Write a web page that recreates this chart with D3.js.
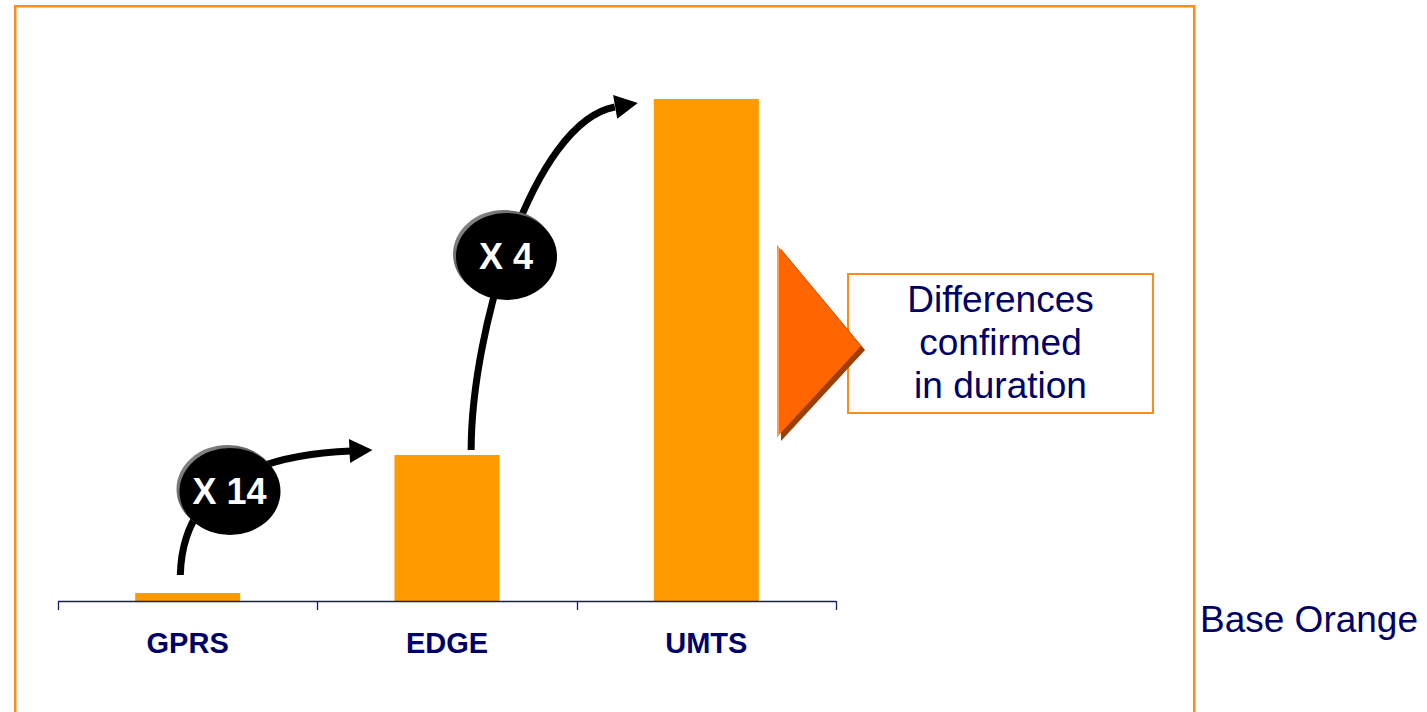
<!DOCTYPE html>
<html>
<head>
<meta charset="utf-8">
<script src="https://cdn.jsdelivr.net/npm/d3@7/dist/d3.min.js"></script>
<style>
  html, body { margin: 0; padding: 0; background: #fff; }
  svg { display: block; }
</style>
</head>
<body>
<svg id="chart" width="1427" height="712"></svg>
<script>
// ---- data ----
const categories = ["GPRS", "EDGE", "UMTS"];
const values = [8, 146, 502];           // relative duration
const multipliers = ["X 14", "X 4"];     // growth labels between consecutive bars
const calloutLines = ["Differences", "confirmed", "in duration"];
const baseLabel = "Base Orange";

// ---- setup ----
const svg = d3.select("#chart");
const NAVY = "#000066";
const BAR = "#ff9900";
const FRAME = "#ff8c1a";
const FONT = "'Liberation Sans', Arial, sans-serif";

const x = d3.scaleBand().domain(categories).range([58, 836])
  .paddingInner(0.595).paddingOuter(0.2975);
const y = d3.scaleLinear().domain([0, d3.max(values)]).range([601, 99]);

// outer frame (bottom edge runs off the picture)
svg.append("rect")
  .attr("x", 15.25).attr("y", 6.25)
  .attr("width", 1179).attr("height", 740)
  .attr("fill", "none").attr("stroke", FRAME).attr("stroke-width", 2.5);

// bars
svg.selectAll("rect.bar").data(categories).join("rect")
  .attr("class", "bar")
  .attr("x", d => x(d))
  .attr("width", x.bandwidth())
  .attr("y", (d, i) => y(values[i]))
  .attr("height", (d, i) => y(0) - y(values[i]))
  .attr("fill", BAR);

// axis: baseline + ticks at band boundaries
const [r0, r1] = x.range();
const bounds = d3.range(categories.length + 1).map(i => r0 + i * x.step());
const axisG = svg.append("g");
axisG.append("line")
  .attr("x1", r0).attr("x2", r1).attr("y1", y(0) + 0.5).attr("y2", y(0) + 0.5)
  .attr("stroke", "#1a1a6e").attr("stroke-width", 1.3);
axisG.selectAll("line.tick").data(bounds).join("line")
  .attr("class", "tick")
  .attr("x1", d => Math.round(d) + 0.5).attr("x2", d => Math.round(d) + 0.5)
  .attr("y1", y(0)).attr("y2", y(0) + 9)
  .attr("stroke", "#1a1a6e").attr("stroke-width", 1.3);

// category labels
svg.selectAll("text.cat").data(categories).join("text")
  .attr("class", "cat")
  .attr("x", d => x(d) + x.bandwidth() / 2)
  .attr("y", 653)
  .attr("text-anchor", "middle")
  .attr("font-family", FONT).attr("font-weight", "bold")
  .attr("font-size", 29).attr("fill", NAVY)
  .text(d => d);

// ---- growth arrows ----
function arrowHead(tip, dir, len, half) {
  const n = Math.hypot(dir[0], dir[1]);
  const ux = dir[0] / n, uy = dir[1] / n;
  const bx = tip[0] - ux * len, by = tip[1] - uy * len;
  return [[tip[0], tip[1]], [bx - uy * half, by + ux * half], [bx + uy * half, by - ux * half]];
}

const bw = x.bandwidth();
const arrows = [
  { // GPRS -> EDGE
    p0: [x("GPRS") + bw * 0.43, y(values[0]) - 18],
    c1: [x("GPRS") + bw * 0.45, 490],
    c2: [x("EDGE") - 145, y(values[1]) + 0],
    p3: [x("EDGE") - 43, y(values[1]) - 4],
    tip: [x("EDGE") - 22, y(values[1]) - 5],
    ell: [229.5, 491], label: multipliers[0]
  },
  { // EDGE -> UMTS
    p0: [x("EDGE") + bw * 0.73, y(values[1]) - 5],
    c1: [x("EDGE") + bw * 0.73, 330],
    c2: [533, 122],
    p3: [x("UMTS") - 39, y(values[2]) + 8],
    tip: [x("UMTS") - 16, y(values[2]) + 4],
    ell: [506, 256], label: multipliers[1]
  }
];

arrows.forEach(a => {
  const p = d3.path();
  p.moveTo(a.p0[0], a.p0[1]);
  p.bezierCurveTo(a.c1[0], a.c1[1], a.c2[0], a.c2[1], a.p3[0], a.p3[1]);
  svg.append("path").attr("d", p.toString())
    .attr("fill", "none").attr("stroke", "#000").attr("stroke-width", 7);
  const dir = [a.tip[0] - a.p3[0], a.tip[1] - a.p3[1]];
  const head = arrowHead(a.tip, dir, 23, 12);
  svg.append("polygon").attr("points", head.map(q => q.join(",")).join(" "))
    .attr("fill", "#000");
});

// gradient for ellipse rim
const defs = svg.append("defs");
const grad = defs.append("linearGradient").attr("id", "rim")
  .attr("x1", "0%").attr("y1", "0%").attr("x2", "100%").attr("y2", "100%");
grad.append("stop").attr("offset", "0%").attr("stop-color", "#9a9a9a");
grad.append("stop").attr("offset", "45%").attr("stop-color", "#555");
grad.append("stop").attr("offset", "100%").attr("stop-color", "#000");

arrows.forEach(a => {
  svg.append("ellipse")
    .attr("cx", a.ell[0] - 2).attr("cy", a.ell[1] - 2)
    .attr("rx", 51).attr("ry", 44).attr("fill", "url(#rim)");
  svg.append("ellipse")
    .attr("cx", a.ell[0] + 0.5).attr("cy", a.ell[1] + 0.5)
    .attr("rx", 50.5).attr("ry", 43.5).attr("fill", "#000");
  svg.append("text")
    .attr("x", a.ell[0]).attr("y", a.ell[1] + 13)
    .attr("text-anchor", "middle")
    .attr("font-family", FONT).attr("font-weight", "bold")
    .attr("font-size", 36).attr("fill", "#fff")
    .text(a.label);
});

// ---- callout: text box + orange pointer on top ----
svg.append("rect")
  .attr("x", 848).attr("y", 274).attr("width", 305).attr("height", 139)
  .attr("fill", "#fff").attr("stroke", FRAME).attr("stroke-width", 2);
svg.selectAll("text.callout").data(calloutLines).join("text")
  .attr("class", "callout")
  .attr("x", 1000.5)
  .attr("y", (d, i) => 312 + i * 43)
  .attr("text-anchor", "middle")
  .attr("font-family", FONT).attr("font-size", 37).attr("fill", NAVY)
  .text(d => d);

const tri = [[777, 245], [861, 346], [777, 437]];
svg.append("polygon")
  .attr("points", tri.map(q => [q[0] + 4, q[1] + 4].join(",")).join(" "))
  .attr("fill", "#9c3f05");
svg.append("polygon")
  .attr("points", tri.map(q => q.join(",")).join(" "))
  .attr("fill", "#ff6600");
svg.append("line")
  .attr("x1", 778).attr("x2", 778).attr("y1", 247).attr("y2", 436)
  .attr("stroke", "#ff9a55").attr("stroke-width", 2);

// base label
svg.append("text")
  .attr("x", 1200).attr("y", 632)
  .attr("font-family", FONT).attr("font-size", 37).attr("fill", NAVY)
  .text(baseLabel);
</script>
</body>
</html>
